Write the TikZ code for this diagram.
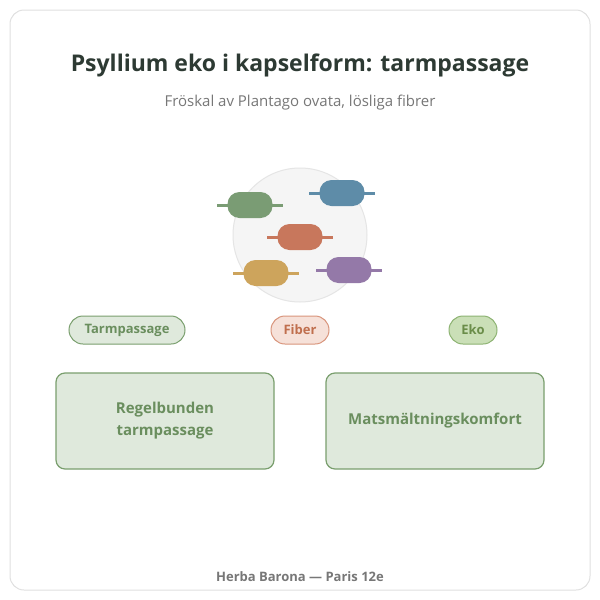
\documentclass[tikz,border=0pt]{standalone}
\usepackage{fontspec}
\setmainfont{Open Sans}
\usetikzlibrary{positioning}
\definecolor{ink}{HTML}{2D3A33}
\definecolor{grey}{HTML}{777777}
\definecolor{sage}{HTML}{7A9F6E}
\definecolor{sagefill}{HTML}{DFE9DC}
\definecolor{sagetext}{HTML}{6A8E5E}
\definecolor{rust}{HTML}{D9957C}
\definecolor{rustfill}{HTML}{F6E1D9}
\definecolor{rusttext}{HTML}{C06F4E}
\definecolor{leaf}{HTML}{8DB372}
\definecolor{leaffill}{HTML}{CADFB7}
\definecolor{leaftext}{HTML}{6A8D49}
\definecolor{capgreen}{HTML}{7A9C74}
\definecolor{capblue}{HTML}{5E8CA8}
\definecolor{caporange}{HTML}{C8775C}
\definecolor{capyellow}{HTML}{CDA45C}
\definecolor{cappurple}{HTML}{9479A8}
\tikzset{
  tag/.style={draw=#1, fill=#1fill, text=#1text, rounded corners=14pt, minimum height=28pt,
    line width=1pt, font=\fontsize{13}{15}\selectfont\bfseries},
  panel/.style={draw=sage, fill=sagefill, text=sagetext, rounded corners=9pt, line width=1.2pt,
    minimum width=218pt, minimum height=96pt, align=center, font=\fontsize{15}{22}\selectfont\bfseries},
  capsule/.style={fill=#1, rounded corners=12pt, minimum width=45pt, minimum height=26pt, inner sep=0pt},
  stem/.style={draw=#1, line width=3pt}
}
\begin{document}
\begin{tikzpicture}[x=1pt, y=-1pt]
  \useasboundingbox (0,0) rectangle (600,600);
  \draw[draw=black!12, fill=white, rounded corners=14pt, line width=1pt] (10,10) rectangle (590,590);
  \node[text=ink, font=\fontsize{23}{28}\selectfont\bfseries] (title) at (300,65) {Psyllium eko i kapselform: tarmpassage};
  \node[text=grey, font=\fontsize{15}{18}\selectfont] (sub) at (300,103) {Fröskal av Plantago ovata, lösliga fibrer};
  % seed cluster
  \node[circle, draw=black!10, fill=black!4, line width=1pt, minimum size=134pt] (seed) at (300,235) {};
  \foreach \n/\x/\y/\c in {g/250/205/capgreen, b/342/193/capblue, o/300/237/caporange,
                           y/266/273/capyellow, p/349/270/cappurple} {
    \coordinate (\n l) at (\x-33,\y);
    \coordinate (\n r) at (\x+33,\y);
    \draw[stem=\c] (\n l) -- (\n r);
    \node[capsule=\c] (\n) at (\x,\y) {};
  }
  % tags
  \node[tag=sage, minimum width=116pt] (tpass) at (127,330) {Tarmpassage};
  \node[tag=rust, minimum width=58pt] (fiber) at (300,330) {Fiber};
  \node[tag=leaf, minimum width=48pt] (eko) at (473,330) {Eko};
  % panels
  \node[panel] (regel) at (165,421) {Regelbunden\\tarmpassage};
  \node[panel] (komfort) at (435,421) {Matsmältningskomfort};
  \node[text=grey, font=\fontsize{13}{15}\selectfont\bfseries] (foot) at (300,577) {Herba Barona — Paris 12e};
\end{tikzpicture}
\end{document}
